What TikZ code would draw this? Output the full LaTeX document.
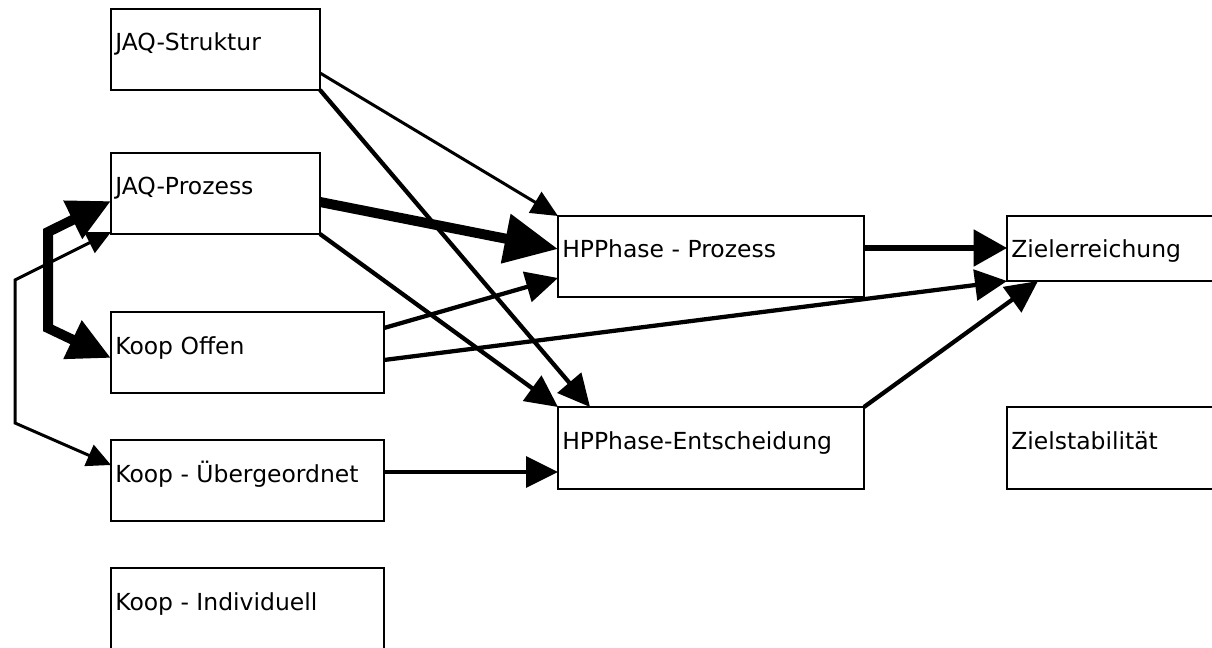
\documentclass[tikz,border=0pt]{standalone}
\usepackage{fontspec}
\setmainfont{DejaVu Sans}
\usetikzlibrary{arrows.meta,calc}
\begin{document}
\begin{tikzpicture}[x=0.75pt,y=-0.75pt,
  box/.style={draw, line width=1.1pt, rectangle, inner sep=0pt, outer sep=0pt, anchor=north west},
  sz/.style 2 args={minimum width=#1*0.75pt, minimum height=#2*0.75pt},
  lbl/.style={anchor=base west, inner sep=0pt, font=\fontsize{17.6}{20}\selectfont},
  thinarr/.style={line width=2.25pt, -{Triangle[length=20pt,width=18pt]}},
  medarr/.style={line width=3.2pt, -{Triangle[length=24pt,width=23pt]}},
  bigmedarr/.style={line width=3.9pt, -{Triangle[length=25pt,width=27pt]}},
  thickarr/.style={line width=7.5pt, -{Triangle[length=40pt,width=36pt]}},
  thickbi/.style={line width=7.5pt, line join=miter, {Triangle[length=32pt,width=30pt]}-{Triangle[length=32pt,width=30pt]}},
  thinbi/.style={line width=2.25pt, {Triangle[length=18pt,width=17pt]}-{Triangle[length=18pt,width=17pt]}}
]
\clip (0,0) rectangle (1212,648);
\fill[white] (0,0) rectangle (1212,648);

% boxes
\node[box, sz={209}{81}] (js) at (111,9) {};
\node[box, sz={209}{81}] (jp) at (111,153) {};
\node[box, sz={273}{81}] (ko) at (111,312) {};
\node[box, sz={273}{81}] (ku) at (111,440) {};
\node[box, sz={273}{84}] (ki) at (111,568) {};
\node[box, sz={306}{81}] (hp) at (558,216) {};
\node[box, sz={306}{82}] (he) at (558,407) {};
\node[box, sz={230}{65}] (ze) at (1007,216) {};
\node[box, sz={230}{82}] (zs) at (1007,407) {};

% labels
\node[lbl] (js-t) at ($(js.north west)+(4,42)$) {JAQ-Struktur};
\node[lbl] (jp-t) at ($(jp.north west)+(4,42)$) {JAQ-Prozess};
\node[lbl] (ko-t) at ($(ko.north west)+(4,42)$) {Koop Offen};
\node[lbl] (ku-t) at ($(ku.north west)+(4,42)$) {Koop - Übergeordnet};
\node[lbl] (ki-t) at ($(ki.north west)+(4,42)$) {Koop - Individuell};
\node[lbl] (hp-t) at ($(hp.north west)+(4,42)$) {HPPhase - Prozess};
\node[lbl] (he-t) at ($(he.north west)+(4,42)$) {HPPhase-Entscheidung};
\node[lbl] (ze-t) at ($(ze.north west)+(4,42)$) {Zielerreichung};
\node[lbl] (zs-t) at ($(zs.north west)+(4,42)$) {Zielstabilität};

% connectors
\draw[thinarr] ($(js.north east)+(0,64)$) -- (hp.north west);
\draw[medarr] (js.south east) -- ($(he.north west)+(32,0)$);
\draw[thickarr] ($(jp.north east)+(0,49)$) -- ($(hp.north west)+(0,33)$);
\draw[medarr] (jp.south east) -- (he.north west);
\draw[medarr] ($(ko.north east)+(0,16)$) -- ($(hp.south west)+(0,-19)$);
\draw[medarr] ($(ko.north east)+(0,48)$) -- (ze.south west);
\draw[bigmedarr] ($(hp.north east)+(0,32)$) -- ($(ze.north west)+(0,32)$);
\draw[medarr] (he.north east) -- ($(ze.south west)+(31,0)$);
\draw[medarr] ($(ku.north east)+(0,32)$) -- ($(he.north west)+(0,65)$);

\coordinate (b1) at (48,232);
\coordinate (b2) at (48,328);
\draw[thickbi] ($(jp.north west)+(0,48)$) -- (b1) -- (b2) -- ($(ko.north west)+(0,46)$);

\coordinate (c1) at (15,280);
\coordinate (c2) at (15,423);
\draw[thinbi] ($(jp.south west)+(0,-2)$) -- (c1) -- (c2) -- ($(ku.north west)+(0,25)$);
\end{tikzpicture}
\end{document}
